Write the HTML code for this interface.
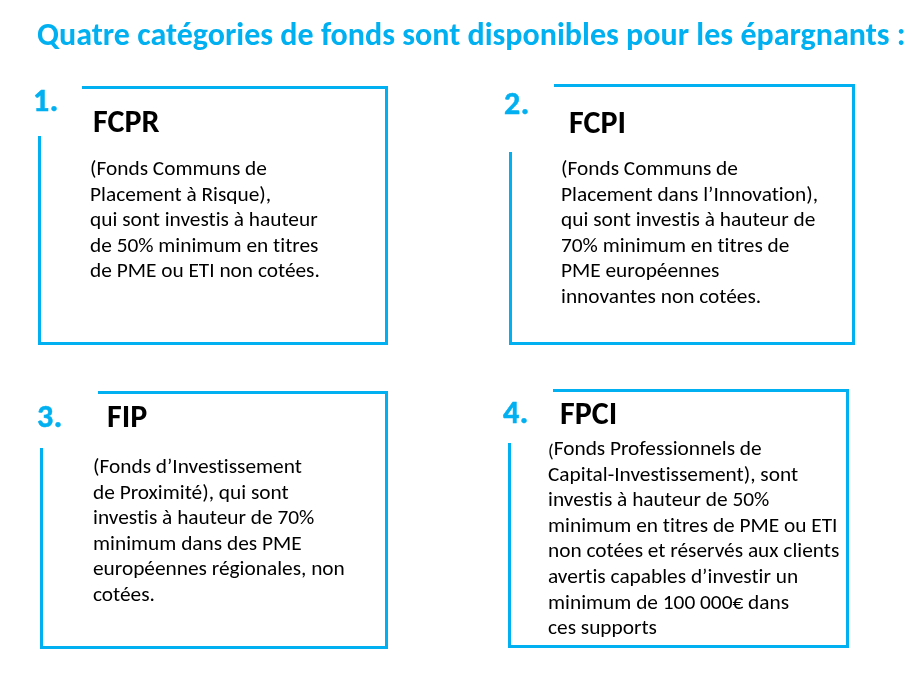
<!DOCTYPE html>
<html lang="fr">
<head>
<meta charset="utf-8">
<title>Quatre catégories de fonds</title>
<style>
  html, body { margin: 0; padding: 0; background: #ffffff; }
  body { width: 919px; height: 679px; position: relative; overflow: hidden;
         font-family: "Carlito", "Liberation Sans", sans-serif; color: #000; font-variant-ligatures: none; font-feature-settings: "liga" 0, "clig" 0; }
  .ln { position: absolute; background: #00B0F0; }
  .t { position: absolute; white-space: pre; line-height: 40px; will-change: transform; }
  .title { font-size: 32px; font-weight: 700; color: #00B0F0; letter-spacing: 0.02px; }
  .num { font-size: 32px; font-weight: 700; color: #00B0F0; letter-spacing: 0.5px; -webkit-text-stroke: 0.5px #00B0F0; }
  .head { font-size: 32px; font-weight: 700; color: #000; }
  .body { position: absolute; white-space: pre; will-change: transform; font-size: 21.333px; line-height: 25.6px; color: #000; }
  .small { font-size: 18.67px; line-height: 0; position: relative; top: 1.5px; }
</style>
</head>
<body>
  <div class="t title" style="left:37px; top:15px;">Quatre catégories de fonds sont disponibles pour les épargnants :</div>

  <!-- Box 1 -->
  <div class="ln" style="left:82px; top:86px; width:306px; height:3px;"></div>
  <div class="ln" style="left:385px; top:86px; width:3px; height:259px;"></div>
  <div class="ln" style="left:38px; top:342px; width:350px; height:3px;"></div>
  <div class="ln" style="left:38px; top:136px; width:3px; height:209px;"></div>
  <div class="t num" style="left:32.5px; top:80.5px;">1.</div>
  <div class="t head" style="left:93px; top:101.5px;">FCPR</div>
  <div class="body" style="left:90px; top:156px;">(Fonds Communs de
Placement à Risque),
qui sont investis à hauteur
de 50% minimum en titres
de PME ou ETI non cotées.</div>

  <!-- Box 2 -->
  <div class="ln" style="left:554px; top:84px; width:301px; height:3px;"></div>
  <div class="ln" style="left:852px; top:84px; width:3px; height:261px;"></div>
  <div class="ln" style="left:509px; top:342px; width:346px; height:3px;"></div>
  <div class="ln" style="left:509px; top:152px; width:3px; height:193px;"></div>
  <div class="t num" style="left:504px; top:83.5px;">2.</div>
  <div class="t head" style="left:569px; top:103px;">FCPI</div>
  <div class="body" style="left:561px; top:156px;">(Fonds Communs de
Placement dans l’Innovation),
qui sont investis à hauteur de
70% minimum en titres de
PME européennes
innovantes non cotées.</div>

  <!-- Box 3 -->
  <div class="ln" style="left:98px; top:391px; width:290px; height:3px;"></div>
  <div class="ln" style="left:385px; top:391px; width:3px; height:258px;"></div>
  <div class="ln" style="left:40px; top:646px; width:348px; height:3px;"></div>
  <div class="ln" style="left:40px; top:448px; width:3px; height:201px;"></div>
  <div class="t num" style="left:37px; top:396.5px;">3.</div>
  <div class="t head" style="left:107px; top:396.5px;">FIP</div>
  <div class="body" style="left:93px; top:454px;">(Fonds d’Investissement
de Proximité), qui sont
investis à hauteur de 70%
minimum dans des PME
européennes régionales, non
cotées.</div>

  <!-- Box 4 -->
  <div class="ln" style="left:553px; top:389px; width:296px; height:3px;"></div>
  <div class="ln" style="left:846px; top:389px; width:3px; height:259px;"></div>
  <div class="ln" style="left:508px; top:645px; width:341px; height:3px;"></div>
  <div class="ln" style="left:508px; top:443px; width:3px; height:205px;"></div>
  <div class="t num" style="left:503px; top:392.5px;">4.</div>
  <div class="t head" style="left:560px; top:394px;">FPCI</div>
  <div class="body" style="left:548px; top:436px;"><span class="small">(</span>Fonds Professionnels de
Capital-Investissement), sont
investis à hauteur de 50%
minimum en titres de PME ou ETI
non cotées et réservés aux clients
avertis capables d’investir un
minimum de 100 000€ dans
ces supports</div>
</body>
</html>
